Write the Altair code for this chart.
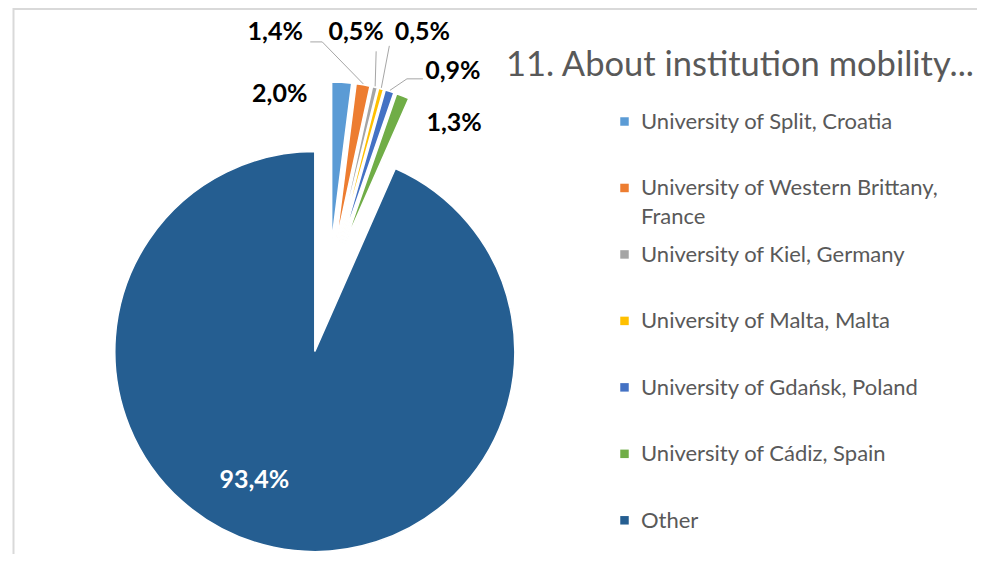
import math
import altair as alt
import pandas as pd

# ---------------- data ----------------
categories = [
    "University of Split, Croatia",
    "University of Western Brittany, France",
    "University of Kiel, Germany",
    "University of Malta, Malta",
    "University of Gdańsk, Poland",
    "University of Cádiz, Spain",
    "Other",
]
shares = [2.0, 1.4, 0.5, 0.5, 0.9, 1.3, 93.4]
share_labels = ["2,0%", "1,4%", "0,5%", "0,5%", "0,9%", "1,3%", "93,4%"]
colors = ["#5B9BD5", "#ED7D31", "#A5A5A5", "#FFC000", "#4472C4", "#70AD47", "#255E91"]
title_text = "11. About institution mobility..."

# ---------------- style / layout ----------------
CX, CY = 321, 276            # pie centre (plot px)
explode_px = {"Other": 69}   # slice explosion, default below
EXPLODE_DEFAULT = 42
radius_px = {"Other": 200}
RADIUS_DEFAULT = 160
# label nudges relative to the slice's outer mid point
label_nudge = {
    "University of Split, Croatia": (-62, 13),
    "University of Western Brittany, France": (-88, -52),
    "University of Kiel, Germany": (-19, -54),
    "University of Malta, Malta": (41, -56),
    "University of Gdańsk, Poland": (63, -19),
    "University of Cádiz, Spain": (51, 28),
    "Other": (-19, -68),
}
# leader line elbow / end relative to label centre
leader = {
    "University of Western Brittany, France": (47, 10, 35, 10),
    "University of Kiel, Germany": (20, 19, 20, 19),
    "University of Malta, Malta": (-33, 14, -33, 14),
    "University of Gdańsk, Poland": (-46, 7.5, -30, 7.5),
}

rows = []
for i, (c, s, l) in enumerate(zip(categories, shares, share_labels)):
    nd = label_nudge[c]
    ld = leader.get(c)
    rows.append({
        "order": i, "category": c, "share": s, "vlabel": l,
        "explode": explode_px.get(c, EXPLODE_DEFAULT),
        "r": radius_px.get(c, RADIUS_DEFAULT),
        "ndx": nd[0], "ndy": nd[1],
        "lead": ld is not None,
        "edx": ld[0] if ld else 0, "edy": ld[1] if ld else 0,
        "fdx": ld[2] if ld else 0, "fdy": ld[3] if ld else 0,
    })
df = pd.DataFrame(rows)

color_scale = alt.Scale(domain=categories, range=colors)

base = (
    alt.Chart(df)
    .transform_window(cum="sum(share)", sort=[alt.SortField("order")], frame=[None, 0])
    .transform_calculate(start="datum.cum - datum.share")
    .transform_calculate(mid="2*PI*(datum.cum - datum.share/2)/100")
    .transform_calculate(cx=f"{CX} + datum.explode*sin(datum.mid)")
    .transform_calculate(cy=f"{CY} - datum.explode*cos(datum.mid)")
    .transform_calculate(ox="datum.cx + (datum.r+1)*sin(datum.mid)")
    .transform_calculate(oy="datum.cy - (datum.r+1)*cos(datum.mid)")
    .transform_calculate(lx="datum.ox + datum.ndx")
    .transform_calculate(ly="datum.oy + datum.ndy")
    .transform_calculate(ex="datum.lx + datum.edx")
    .transform_calculate(ey="datum.ly + datum.edy")
    .transform_calculate(fx="datum.lx + datum.fdx")
    .transform_calculate(fy="datum.ly + datum.fdy")
)

arcs = base.mark_arc(stroke="white", strokeWidth=1.5).encode(
    theta=alt.Theta("start:Q", stack=None,
                    scale=alt.Scale(domain=[0, 100], range=[0, 2 * math.pi])),
    theta2="cum:Q",
    radius=alt.Radius("r:Q", scale=None),
    x=alt.X("cx:Q", scale=None, axis=None),
    y=alt.Y("cy:Q", scale=None, axis=None),
    color=alt.Color("category:N", scale=color_scale, legend=None),
    order=alt.Order("order:Q"),
)

lead_base = base.transform_filter("datum.lead")
lead1 = lead_base.mark_rule(color="#A6A6A6", strokeWidth=1).encode(
    x=alt.X("ox:Q", scale=None, axis=None), y=alt.Y("oy:Q", scale=None, axis=None),
    x2="ex:Q", y2="ey:Q",
)
lead2 = lead_base.mark_rule(color="#A6A6A6", strokeWidth=1).encode(
    x=alt.X("ex:Q", scale=None, axis=None), y=alt.Y("ey:Q", scale=None, axis=None),
    x2="fx:Q", y2="fy:Q",
)

labels = base.mark_text(font="Lato", fontWeight="bold", fontSize=25,
                        align="center", baseline="middle").encode(
    x=alt.X("lx:Q", scale=None, axis=None),
    y=alt.Y("ly:Q", scale=None, axis=None),
    text="vlabel:N",
    color=alt.condition("datum.category == 'Other'", alt.value("white"), alt.value("black")),
)

# legend (built from the same categories)
leg_y = alt.Y("category:N", sort=categories, axis=None,
              scale=alt.Scale(type="point", range=[113.5, 512.3], padding=0))
leg_sq = alt.Chart(df).mark_square(size=72, opacity=1).encode(
    x=alt.value(616.5), y=leg_y,
    color=alt.Color("category:N", scale=color_scale, legend=None),
)
leg_tx = (
    alt.Chart(df)
    .transform_calculate(disp="replace(datum.category, 'Brittany, ', 'Brittany,\\n')")
    .mark_text(align="left", baseline="top", dy=-9.5, lineBreak="\n", lineHeight=28.4,
               font="Lato", fontSize=22, color="#595959")
    .encode(x=alt.value(633), y=leg_y, text="disp:N")
)

title = alt.Chart(pd.DataFrame({"t": [title_text]})).mark_text(
    align="left", baseline="middle", font="Lato", fontSize=34.5, color="#595959"
).encode(x=alt.value(498), y=alt.value(58), text="t:N")

frame_df = pd.DataFrame({"k": [0]})
border_top = alt.Chart(frame_df).mark_rule(color="#D9D9D9", strokeWidth=2).encode(
    x=alt.value(5), x2=alt.value(969), y=alt.value(1))
border_left = alt.Chart(frame_df).mark_rule(color="#D9D9D9", strokeWidth=2).encode(
    x=alt.value(5.5), y=alt.value(0), y2=alt.value(546))

chart = (
    alt.layer(border_top, border_left, arcs, lead1, lead2, labels, leg_sq, leg_tx, title)
    .resolve_scale(x="independent", y="independent")
    .properties(width=969, height=546, autosize=alt.AutoSizeParams(type="none"), padding=0)
    .configure_view(stroke=None)
)

chart.save("out.html", embed_options={"renderer": "svg", "actions": False})
